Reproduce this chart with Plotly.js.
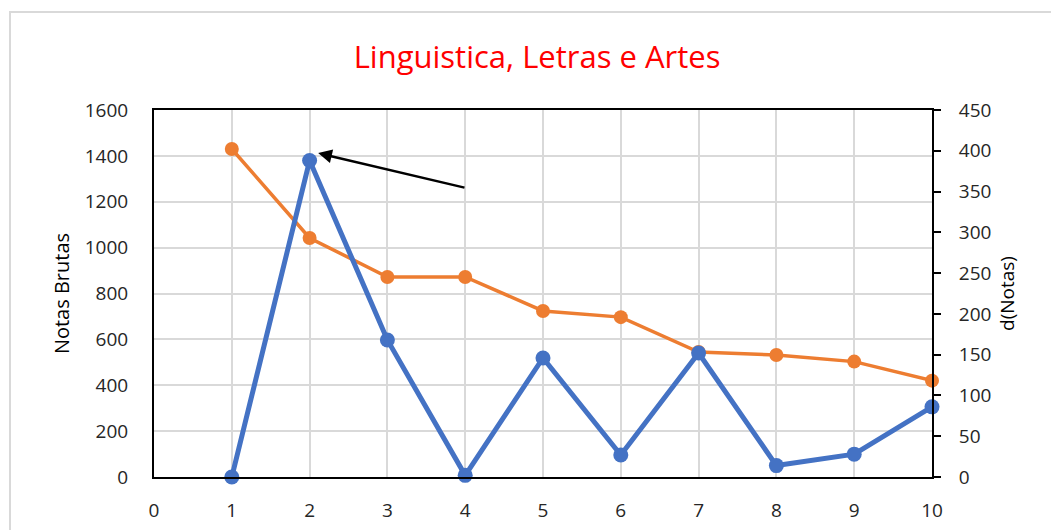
<!DOCTYPE html>
<html>
<head>
<meta charset="utf-8">
<script src="https://cdn.plot.ly/plotly-3.0.1.min.js"></script>
<style>
  body { margin: 0; background: #fff; overflow: hidden; }
  #frame {
    position: absolute; left: 9px; top: 11px; width: 1100px; height: 600px;
    border: 2px solid #d9d9d9; pointer-events: none;
  }
  #chart { position: absolute; left: 0; top: 0; width: 1051px; height: 530px; }
</style>
</head>
<body>
<div id="chart"></div>
<div id="frame"></div>
<script>
// x positions
const positions = [1, 2, 3, 4, 5, 6, 7, 8, 9, 10];
// raw grades (left axis)
const notasBrutas = [1430, 1042, 872, 872, 724, 697, 545, 532, 503, 420];
// differences between consecutive grades (right axis)
const dNotas = [0, 388, 168, 2, 146, 27, 152, 14, 28, 86];

const font = "Open Sans, Liberation Sans, sans-serif";

Plotly.newPlot(
  "chart",
  [
    {
      x: positions,
      y: notasBrutas,
      type: "scatter",
      mode: "lines+markers",
      name: "Notas Brutas",
      cliponaxis: false,
      line: { color: "#ED7D31", width: 3.5 },
      marker: { color: "#ED7D31", size: 14 },
    },
    {
      x: positions,
      y: dNotas,
      type: "scatter",
      mode: "lines+markers",
      name: "d(Notas)",
      yaxis: "y2",
      cliponaxis: false,
      line: { color: "#4472C4", width: 5 },
      marker: { color: "#4472C4", size: 15 },
    },
  ],
  {
    width: 1051,
    height: 530,
    margin: { l: 154, r: 119, t: 110, b: 53 },
    showlegend: false,
    paper_bgcolor: "rgba(0,0,0,0)",
    plot_bgcolor: "#fff",
    font: { family: font, size: 19, color: "#262626" },
    title: {
      text: "Linguistica, Letras e Artes",
      font: { family: font, size: 31, color: "#ff0000" },
      xref: "container",
      yref: "container",
      x: 0.511,
      y: 0.892,
      xanchor: "center",
      yanchor: "middle",
    },
    xaxis: {
      range: [0, 10],
      dtick: 1,
      tick0: 0,
      showgrid: true,
      gridcolor: "#d9d9d9",
      gridwidth: 2,
      zeroline: false,
      showline: true,
      linecolor: "#000",
      linewidth: 2,
      mirror: true,
      ticks: "",
      ticklabelstandoff: 15,
    },
    yaxis: {
      range: [0, 1600],
      dtick: 200,
      showgrid: true,
      gridcolor: "#d9d9d9",
      gridwidth: 2,
      zeroline: false,
      showline: true,
      linecolor: "#000",
      linewidth: 2,
      ticks: "",
      ticklabelstandoff: 20,
      title: { text: "Notas Brutas", font: { size: 20, color: "#000" }, standoff: 10 },
    },
    yaxis2: {
      overlaying: "y",
      side: "right",
      range: [0, 450],
      dtick: 50,
      showgrid: false,
      zeroline: false,
      showline: true,
      linecolor: "#000",
      linewidth: 2,
      ticks: "outside",
      ticklen: 7,
      tickwidth: 2,
      tickcolor: "#000",
      ticklabelstandoff: 14,
      title: { text: "d(Notas)", font: { size: 19, color: "#000" }, standoff: 10 },
    },
    annotations: [
      {
        x: 2.11,
        y: 1412,
        ax: 4.01,
        ay: 1260,
        xref: "x",
        yref: "y",
        axref: "x",
        ayref: "y",
        text: "",
        showarrow: true,
        arrowhead: 2,
        arrowsize: 1.1,
        arrowwidth: 2.5,
        arrowcolor: "#000",
      },
    ],
  },
  { displayModeBar: false }
);
</script>
</body>
</html>
